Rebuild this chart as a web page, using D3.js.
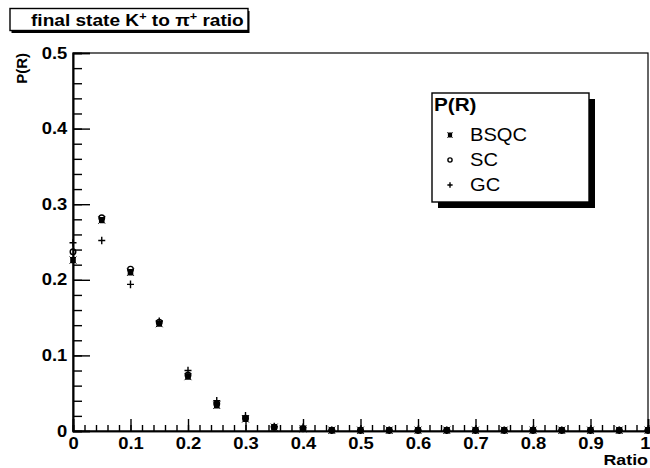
<!DOCTYPE html>
<html><head><meta charset="utf-8">
<script src="https://cdnjs.cloudflare.com/ajax/libs/d3/7.8.5/d3.min.js"></script>
<style>
html,body{margin:0;padding:0;background:#fff;}
svg{display:block;font-family:"Liberation Sans",Arial,Helvetica,sans-serif;}
</style></head>
<body>
<svg id="c" width="650" height="468"></svg>
<script>
// ---- data ----
const ratios = [0, 0.05, 0.1, 0.15, 0.2, 0.25, 0.3, 0.35, 0.4, 0.45, 0.5, 0.55, 0.6, 0.65, 0.7, 0.75, 0.8, 0.85, 0.9, 0.95, 1.0];
const bsqc = [0.226, 0.279, 0.210, 0.142, 0.072, 0.034, 0.016, 0.005, 0.003, 0.001, 0.001, 0.001, 0.001, 0.001, 0.001, 0.001, 0.001, 0.001, 0.001, 0.001, 0.001];
const sc   = [0.237, 0.282, 0.214, 0.144, 0.074, 0.036, 0.017, 0.005, 0.003, 0.001, 0.001, 0.001, 0.001, 0.001, 0.001, 0.001, 0.001, 0.001, 0.001, 0.001, 0.001];
const gc   = [0.249, 0.252, 0.194, 0.145, 0.080, 0.040, 0.020, 0.006, 0.005, 0.001, 0.001, 0.001, 0.001, 0.001, 0.001, 0.001, 0.001, 0.001, 0.001, 0.001, 0.001];
const xTicks = [0, 0.1, 0.2, 0.3, 0.4, 0.5, 0.6, 0.7, 0.8, 0.9, 1];
const yTicks = [0, 0.1, 0.2, 0.3, 0.4, 0.5];
const seriesNames = ["BSQC", "SC", "GC"];

const SX = 1.15; // horizontal glyph stretch of the reference
const svg = d3.select("#c");
const x = d3.scaleLinear().domain([0, 1]).range([73, 648]);
const y = d3.scaleLinear().domain([0, 0.5]).range([431, 53]);
const fmt = d => d === 0 ? "0" : (d === 1 ? "1" : d.toFixed(1));

// frame
svg.append("rect").attr("x", x(0)).attr("y", y(0.5)).attr("width", x(1) - x(0)).attr("height", y(0) - y(0.5))
  .attr("fill", "none").attr("stroke", "#000").attr("stroke-width", 1.2);

// minor ticks
const yMinor = svg.append("g").attr("transform", `translate(${x(0)},0)`)
  .call(d3.axisLeft(y).tickValues(d3.range(0, 0.5001, 0.02)).tickSize(-9).tickFormat(""));
const xMinor = svg.append("g").attr("transform", `translate(0,${y(0)})`)
  .call(d3.axisBottom(x).tickValues(d3.range(0, 1.0001, 0.02)).tickSize(-6).tickFormat(""));
// major
const yAx = svg.append("g").attr("transform", `translate(${x(0)},0)`)
  .call(d3.axisLeft(y).tickValues(yTicks).tickSize(-17).tickPadding(5).tickFormat(fmt));
const xAx = svg.append("g").attr("transform", `translate(0,${y(0)})`)
  .call(d3.axisBottom(x).tickValues(xTicks).tickSize(-12).tickPadding(7).tickFormat(fmt));
[yMinor, xMinor, yAx, xAx].forEach(g => {
  g.select(".domain").attr("stroke", "#000").attr("stroke-width", 1.6);
  g.selectAll(".tick line").attr("stroke", "#000").attr("stroke-width", 1.4);
});
[yAx, xAx].forEach(g => g.selectAll("text")
  .attr("font-size", 16).attr("font-weight", "bold").attr("fill", "#000")
  .attr("font-family", "Liberation Sans, Arial, sans-serif")
  .attr("transform", `scale(${SX},1)`));
// last x label sits at the window edge: keep it inside
xAx.selectAll(".tick text").filter(d => d === 1).attr("text-anchor", "end").attr("x", 2 / SX);

// axis titles
svg.append("text").attr("transform", `translate(648,465) scale(${SX},1)`)
  .attr("text-anchor", "end").attr("font-size", 15.5).attr("font-weight", "bold").text("Ratio");
svg.append("text").attr("transform", "translate(27,53) rotate(-90)")
  .attr("text-anchor", "end").attr("font-size", 15).attr("font-weight", "bold").text("P(R)");

// markers
function drawMarker(g, kind, cx, cy, s) {
  if (kind === "BSQC") {
    g.append("rect").attr("x", cx - 2.8 * s).attr("y", cy - 3.2 * s).attr("width", 5.6 * s).attr("height", 6.4 * s).attr("rx", 1 * s).attr("fill", "#000");
    g.append("path").attr("d", `M${cx-3.4*s},${cy-3.6*s}L${cx+3.4*s},${cy+3.6*s}M${cx-3.4*s},${cy+3.6*s}L${cx+3.4*s},${cy-3.6*s}`)
      .attr("stroke", "#000").attr("stroke-width", 1);
  } else if (kind === "SC") {
    g.append("circle").attr("cx", cx).attr("cy", cy).attr("r", 2.8 * s).attr("fill", "none").attr("stroke", "#000").attr("stroke-width", 1.4);
  } else {
    g.append("path").attr("d", `M${cx-3.5*s},${cy}L${cx+3.5*s},${cy}M${cx},${cy-3.8*s}L${cx},${cy+3.8*s}`)
      .attr("stroke", "#000").attr("stroke-width", 1.4);
  }
}
const series = [["BSQC", bsqc], ["SC", sc], ["GC", gc]];
const pg = svg.append("g");
series.forEach(([name, vals]) => {
  vals.forEach((v, i) => drawMarker(pg, name, x(ratios[i]), y(v), 1));
});

// title box
const tb = svg.append("g");
tb.append("rect").attr("x", 11.5).attr("y", 11).attr("width", 238).attr("height", 22).attr("fill", "#000");
tb.append("rect").attr("x", 10).attr("y", 8.5).attr("width", 238).attr("height", 22).attr("fill", "#fff").attr("stroke", "#000").attr("stroke-width", 1.4);
const tt = tb.append("text").attr("transform", `translate(31,26) scale(${SX},1)`)
  .attr("font-size", 16.6).attr("font-weight", "bold");
tt.append("tspan").text("final state K");
tt.append("tspan").attr("font-size", 11).attr("dy", -6).text("+");
tt.append("tspan").attr("dy", 6).text(" to π");
tt.append("tspan").attr("font-size", 11).attr("dy", -6).text("+");
tt.append("tspan").attr("dy", 6).text(" ratio");

// legend
const lg = svg.append("g");
lg.append("rect").attr("x", 438).attr("y", 99).attr("width", 157).attr("height", 109).attr("fill", "#000");
lg.append("rect").attr("x", 432).attr("y", 93).attr("width", 157).attr("height", 109).attr("fill", "#fff").attr("stroke", "#000").attr("stroke-width", 1.4);
lg.append("text").attr("transform", `translate(434,111) scale(${SX},1)`)
  .attr("font-size", 18).attr("font-weight", "bold").text("P(R)");
seriesNames.forEach((n, i) => {
  const by = 141 + i * 25;
  drawMarker(lg, n, 450, by - 6, 0.75);
  lg.append("text").attr("transform", `translate(470,${by}) scale(${SX},1)`)
    .attr("font-size", 17.5).text(n);
});
</script>
</body></html>
